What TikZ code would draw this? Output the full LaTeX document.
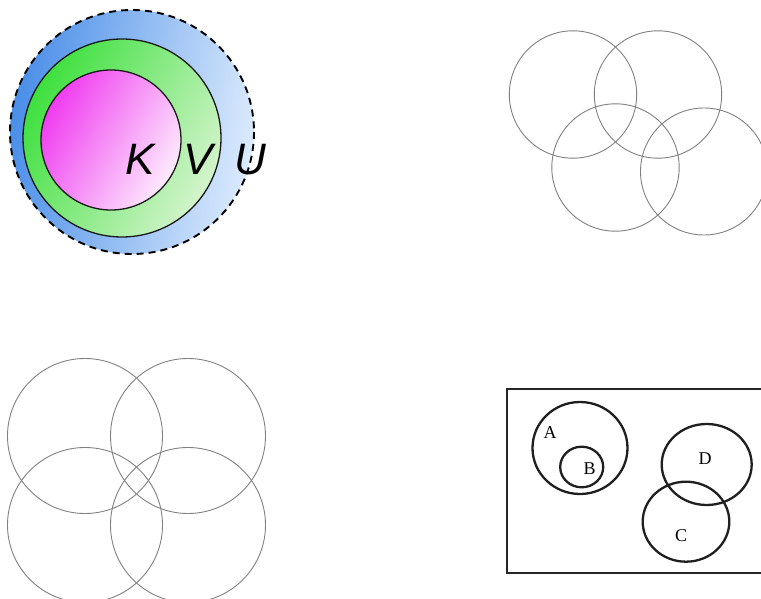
\documentclass[tikz,border=0pt]{standalone}
\usepackage{fontspec}
\setmainfont{Liberation Serif}
\newfontfamily\lsans{Liberation Sans}
\definecolor{bluedark}{HTML}{4A8EE8}
\definecolor{bluelight}{HTML}{DCEBFD}
\definecolor{greendark}{HTML}{3EE03E}
\definecolor{greenlight}{HTML}{D4F4CC}
\definecolor{pinkdark}{HTML}{F03CF0}
\definecolor{pinklight}{HTML}{FDEBFD}
\begin{document}
\begin{tikzpicture}[x=1pt,y=-1pt,
  thin gray/.style={draw=gray, line width=0.9pt},
  setring/.style={draw=black!90, line width=1.3pt},
  bigletter/.style={font=\lsans\itshape\fontsize{44}{44}\selectfont, inner sep=0pt},
  thick set/.style={draw=black!88, line width=2.3pt},
  setlabel/.style={font=\fontsize{18}{18}\selectfont, inner sep=0pt}]
\useasboundingbox (0,0) rectangle (761,599);
% Panel 1: nested sets
\path[left color=bluelight, right color=bluedark, shading angle=-100]
  (132,132) circle[radius=122];
\draw[line width=1.9pt, dash pattern=on 7pt off 5pt] (132,132) circle[radius=122];
\path[left color=greenlight, right color=greendark, shading angle=-120]
  (122,138) circle[radius=99];
\draw[setring] (122,138) circle[radius=99];
\path[left color=pinklight, right color=pinkdark, shading angle=-120]
  (111,140) circle[radius=70];
\draw[setring] (111,140) circle[radius=70];
\node[bigletter] (K) at (140,159) {K};
\node[bigletter] (V) at (198,159) {V};
\node[bigletter] (U) at (250,160) {U};
% Panel 2: four circles (chain)
\draw[thin gray] (573,94.5) circle[radius=63.7];
\draw[thin gray] (658,94.5) circle[radius=63.7];
\draw[thin gray] (615.5,167.5) circle[radius=63.7];
\draw[thin gray] (704,171.5) circle[radius=63.5];
% Panel 3: four circles (square)
\draw[thin gray] (85,436) circle[radius=77.5];
\draw[thin gray] (188,436) circle[radius=77.5];
\draw[thin gray] (85,525) circle[radius=77.5];
\draw[thin gray] (188,525) circle[radius=77.5];
% Panel 4: universe with sets
\draw[draw=black!85, line width=2pt] (780,388.5) -- (507,388.5) -- (507,572.5) -- (780,572.5);
\draw[thick set] (580,448) ellipse[x radius=47.5, y radius=46];
\draw[thick set] (581.7,467) ellipse[x radius=21.5, y radius=20.3];
\draw[thick set] (706.7,464.5) ellipse[x radius=45, y radius=40.5];
\draw[thick set] (686,521.7) ellipse[x radius=43.3, y radius=40];
\node[setlabel] (A) at (550,433) {A};
\node[setlabel] (B) at (589.5,468.5) {B};
\node[setlabel] (D) at (705,459) {D};
\node[setlabel] (C) at (681,536) {C};
\end{tikzpicture}
\end{document}
